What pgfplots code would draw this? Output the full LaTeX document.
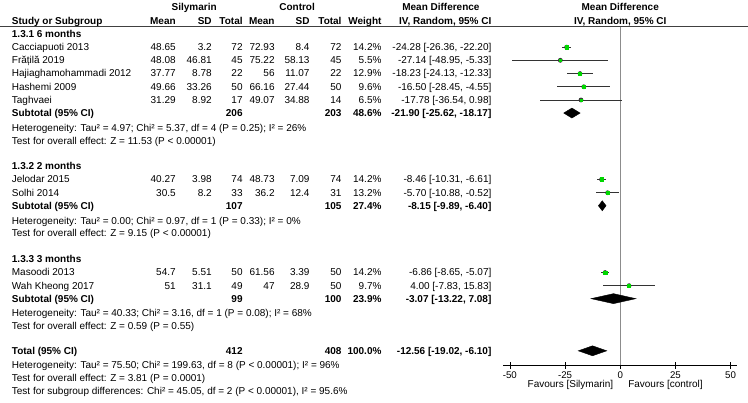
\documentclass[border=0pt]{standalone}
\usepackage{pgfplots}
\pgfplotsset{compat=1.18}
\usepackage{pgfplotstable}
\usepackage{fontspec}
\setmainfont{Liberation Sans}
\definecolor{sqgreen}{RGB}{0,215,0}
\definecolor{zline}{RGB}{140,140,140}

\pgfplotstableread{
md lo hi y w
-24.28 -26.36 -22.20 46.5 14.2
-27.14 -48.95 -5.33 59.7 5.5
-18.23 -24.13 -12.33 73.0 12.9
-16.50 -28.45 -4.55 86.2 9.6
-17.78 -36.54 0.98 99.4 6.5
-8.46 -10.31 -6.61 179.0 14.2
-5.70 -10.88 -0.52 192.3 13.2
-6.86 -8.65 -5.07 272.2 14.2
4.00 -7.83 15.83 285.3 9.7
}\studies

\newcommand{\fs}{\fontsize{9.7}{11}\selectfont}
\tikzset{
  L/.style={anchor=base west, yshift=-3.4pt},
  R/.style={anchor=base east, yshift=-3.4pt},
  C/.style={anchor=base, yshift=-3.4pt},
}
\newcommand{\study}[9]{%
  \node[L] at (axis cs:8,#1) {#2};
  \node[R] at (axis cs:179,#1) {#3};
  \node[R] at (axis cs:215,#1) {#4};
  \node[R] at (axis cs:246,#1) {#5};
  \node[R] at (axis cs:278,#1) {#6};
  \node[R] at (axis cs:313,#1) {#7};
  \node[R] at (axis cs:345,#1) {#8};
  \node[R] at (axis cs:385,#1) {#9};
}
\newcommand{\md}[2]{\node[R] at (axis cs:495,#1) {#2};}
\newcommand{\subt}[6]{%
  \node[L] at (axis cs:8,#1) {\bfseries #2};
  \node[R] at (axis cs:246,#1) {\bfseries #3};
  \node[R] at (axis cs:345,#1) {\bfseries #4};
  \node[R] at (axis cs:385,#1) {\bfseries #5};
  \node[R] at (axis cs:495,#1) {\bfseries #6};
}
\newcommand{\txt}[2]{\node[L] at (axis cs:8,#1) {#2};}

\begin{document}
\begin{tikzpicture}
\begin{axis}[
  name=canvas, at={(0pt,0pt)}, anchor=south west,
  width=748pt, height=402pt, scale only axis,
  xmin=0, xmax=748, ymin=0, ymax=402, y dir=reverse,
  hide axis, clip=false,
  every node/.append style={font=\fs, inner sep=0pt, outer sep=0pt},
]
\path (rel axis cs:0,0) rectangle (rel axis cs:1,1);
% headers
\node[C] at (axis cs:194,6.5) {\bfseries Silymarin};
\node[C] at (axis cs:297,6.5) {\bfseries Control};
\node[C] at (axis cs:441,6.5) {\bfseries Mean Difference};
\node[C] at (axis cs:620.5,6.5) {\bfseries Mean Difference};
\node[L] at (axis cs:8,20) {\bfseries Study or Subgroup};
\node[R] at (axis cs:179,20) {\bfseries Mean};
\node[R] at (axis cs:215,20) {\bfseries SD};
\node[R] at (axis cs:246,20) {\bfseries Total};
\node[R] at (axis cs:278,20) {\bfseries Mean};
\node[R] at (axis cs:313,20) {\bfseries SD};
\node[R] at (axis cs:345,20) {\bfseries Total};
\node[R] at (axis cs:385,20) {\bfseries Weight};
\node[R] at (axis cs:495,20) {\bfseries IV, Random, 95\% CI};
\node[C] at (axis cs:620.5,20) {\bfseries IV, Random, 95\% CI};
\draw[black!75, line width=0.8pt] (axis cs:0,25.7) -- (axis cs:748,25.7);
% group 1
\txt{33}{\bfseries 1.3.1 6 months}
\study{46.5}{Cacciapuoti 2013}{48.65}{3.2}{72}{72.93}{8.4}{72}{14.2\%}
\md{46.5}{-24.28 [-26.36, -22.20]}
\study{59.7}{Frățilă 2019}{48.08}{46.81}{45}{75.22}{58.13}{45}{5.5\%}
\md{59.7}{-27.14 [-48.95, -5.33]}
\study{73}{Hajiaghamohammadi 2012}{37.77}{8.78}{22}{56}{11.07}{22}{12.9\%}
\md{73}{-18.23 [-24.13, -12.33]}
\study{86.2}{Hashemi 2009}{49.66}{33.26}{50}{66.16}{27.44}{50}{9.6\%}
\md{86.2}{-16.50 [-28.45, -4.55]}
\study{99.4}{Taghvaei}{31.29}{8.92}{17}{49.07}{34.88}{14}{6.5\%}
\md{99.4}{-17.78 [-36.54, 0.98]}
\subt{112.5}{Subtotal (95\% CI)}{206}{203}{48.6\%}{-21.90 [-25.62, -18.17]}
\txt{127.5}{Heterogeneity: Tau² = 4.97; Chi² = 5.37, df = 4 (P = 0.25); I² = 26\%}
\txt{140.5}{Test for overall effect: Z = 11.53 (P < 0.00001)}
% group 2
\txt{165.5}{\bfseries 1.3.2 2 months}
\study{179}{Jelodar 2015}{40.27}{3.98}{74}{48.73}{7.09}{74}{14.2\%}
\md{179}{-8.46 [-10.31, -6.61]}
\study{192.3}{Solhi 2014}{30.5}{8.2}{33}{36.2}{12.4}{31}{13.2\%}
\md{192.3}{-5.70 [-10.88, -0.52]}
\subt{205.3}{Subtotal (95\% CI)}{107}{105}{27.4\%}{-8.15 [-9.89, -6.40]}
\txt{220.3}{Heterogeneity: Tau² = 0.00; Chi² = 0.97, df = 1 (P = 0.33); I² = 0\%}
\txt{233}{Test for overall effect: Z = 9.15 (P < 0.00001)}
% group 3
\txt{258.8}{\bfseries 1.3.3 3 months}
\study{272.2}{Masoodi 2013}{54.7}{5.51}{50}{61.56}{3.39}{50}{14.2\%}
\md{272.2}{-6.86 [-8.65, -5.07]}
\study{285.3}{Wah Kheong 2017}{51}{31.1}{49}{47}{28.9}{50}{9.7\%}
\md{285.3}{4.00 [-7.83, 15.83]}
\subt{298.3}{Subtotal (95\% CI)}{99}{100}{23.9\%}{-3.07 [-13.22, 7.08]}
\txt{313}{Heterogeneity: Tau² = 40.33; Chi² = 3.16, df = 1 (P = 0.08); I² = 68\%}
\txt{326}{Test for overall effect: Z = 0.59 (P = 0.55)}
% total
\subt{350.5}{Total (95\% CI)}{412}{408}{100.0\%}{-12.56 [-19.02, -6.10]}
\txt{365}{Heterogeneity: Tau² = 75.50; Chi² = 199.63, df = 8 (P < 0.00001); I² = 96\%}
\txt{378}{Test for overall effect: Z = 3.81 (P = 0.0001)}
\txt{391}{Test for subgroup differences: Chi² = 45.05, df = 2 (P < 0.00001), I² = 95.6\%}
% favours
\node[R] at (axis cs:617,384.3) {Favours [Silymarin]};
\node[L] at (axis cs:625,384.3) {Favours [control]};
\end{axis}

\begin{axis}[
  at={(503.6pt,37pt)}, anchor=south west,
  width=233.8pt, height=365pt, scale only axis,
  xmin=-52.9, xmax=52.9, ymin=-365, ymax=0,
  axis x line*=bottom, axis y line=none,
  x axis line style={-, black, line width=0.7pt},
  xtick={-50,-25,0,25,50},
  xticklabels={-50,-25,0,25,50},
  xtick align=center, major tick length=7pt,
  xtick style={black, line width=0.7pt},
  xticklabel style={font=\fs, inner sep=0pt, yshift=-2.5pt},
  clip=false,
]
\addplot[zline, line width=1.2pt] coordinates {(0,-26) (0,-365)};
% confidence intervals
\addplot[black!80, line width=0.75pt, only marks, mark=none,
  error bars/.cd, x dir=both, x explicit, error mark=none,
  error bar style={black!80, line width=0.75pt}]
  table[x=md, y expr=-\thisrow{y},
        x error plus expr=\thisrow{hi}-\thisrow{md},
        x error minus expr=\thisrow{md}-\thisrow{lo}] {\studies};
% study squares
\addplot[scatter, only marks, mark=square*,
  scatter/use mapped color={draw=sqgreen, fill=sqgreen},
  visualization depends on={0.6+0.085*\thisrow{w} \as \msize},
  scatter/@pre marker code/.append style={/tikz/mark size=\msize}]
  table[x=md, y expr=-\thisrow{y}] {\studies};
% diamonds
\addplot[fill=black, draw=black] coordinates {(-25.62,-112.5) (-21.90,-107.5) (-18.17,-112.5) (-21.90,-117.5)} -- cycle;
\addplot[fill=black, draw=black] coordinates {(-9.89,-205.3) (-8.15,-200.3) (-6.40,-205.3) (-8.15,-210.3)} -- cycle;
\addplot[fill=black, draw=black] coordinates {(-13.22,-298.3) (-3.07,-293.3) (7.08,-298.3) (-3.07,-303.3)} -- cycle;
\addplot[fill=black, draw=black] coordinates {(-19.02,-350.5) (-12.56,-345.5) (-6.10,-350.5) (-12.56,-355.5)} -- cycle;
\end{axis}
\end{tikzpicture}
\end{document}
